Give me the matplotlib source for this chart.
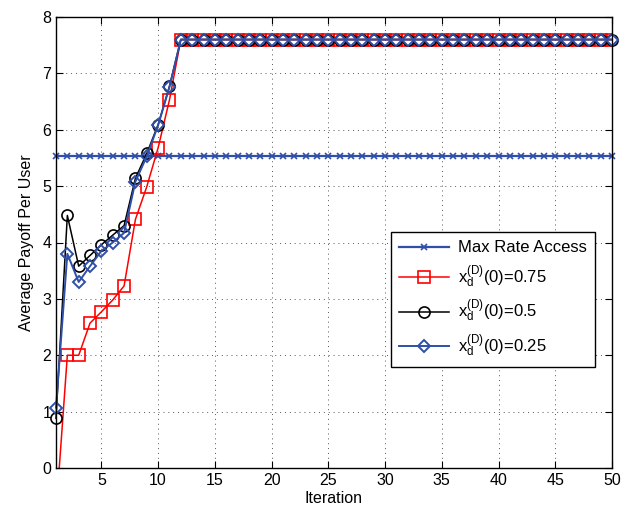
import numpy as np
import matplotlib.pyplot as plt

plt.rcParams['font.family'] = ['Liberation Sans', 'DejaVu Sans']
plt.rcParams['mathtext.fontset'] = 'custom'
plt.rcParams['mathtext.rm'] = 'Liberation Sans'
plt.rcParams['mathtext.it'] = 'Liberation Sans'

# - Data - #
iterations = np.arange(1, 51)
max_rate = [5.54] * 50
plateau = 7.6
x075 = [-0.8, 2.0, 2.0, 2.57, 2.77, 2.98, 3.23, 4.41, 4.99, 5.68, 6.53] + [plateau] * 39
x050 = [0.88, 4.48, 3.58, 3.77, 3.96, 4.13, 4.30, 5.14, 5.58, 6.09, 6.77] + [plateau] * 39
x025 = [1.07, 3.80, 3.30, 3.58, 3.85, 4.00, 4.17, 5.08, 5.53, 6.08, 6.76] + [plateau] * 39

blue = '#2f4fa8'

# - Figure and Axes - #
fig = plt.figure(figsize=(6.36, 5.13), dpi=100)
ax = fig.add_axes([56/636, 45/513, 556/636, 451/513])

ax.plot(iterations, max_rate, color=blue, marker='x', ms=4, mew=1.2, lw=1.6,
        label='Max Rate Access', clip_on=False)
ax.plot(iterations, x075, color='red', marker='s', ms=8.5, mfc='none', mew=1.2, lw=1.1,
        label=r'$\mathregular{x_d^{(D)}}$(0)=0.75')
ax.plot(iterations, x050, color='black', marker='o', ms=8, mfc='none', mew=1.2, lw=1.1,
        label=r'$\mathregular{x_d^{(D)}}$(0)=0.5', clip_on=False)
ax.plot(iterations, x025, color=blue, marker='D', ms=6, mfc='none', mew=1.4, lw=1.4,
        label=r'$\mathregular{x_d^{(D)}}$(0)=0.25', clip_on=False)

# - Axes styling - #
ax.set_xlim(1, 50)
ax.set_ylim(0, 8)
ax.set_xticks(range(5, 51, 5))
ax.set_yticks(range(0, 9))
ax.tick_params(direction='in', top=True, right=True, labelsize=11.5, length=5)
ax.grid(True, linestyle=(0, (1, 4)), color='#555555', lw=0.7)
for s in ax.spines.values():
    s.set_linewidth(1.0)
ax.set_xlabel('Iteration', fontsize=11.5, labelpad=2)
ax.set_ylabel('Average Payoff Per User', fontsize=11.5, labelpad=6)

leg = ax.legend(loc='upper left', bbox_to_anchor=(0.6025, 0.523), fontsize=12,
                fancybox=False, framealpha=1, edgecolor='black', borderaxespad=0,
                handlelength=3.0, handletextpad=0.5, labelspacing=0.5, borderpad=0.5)
leg.get_frame().set_linewidth(1.0)

fig.savefig('out.png', dpi=100)
